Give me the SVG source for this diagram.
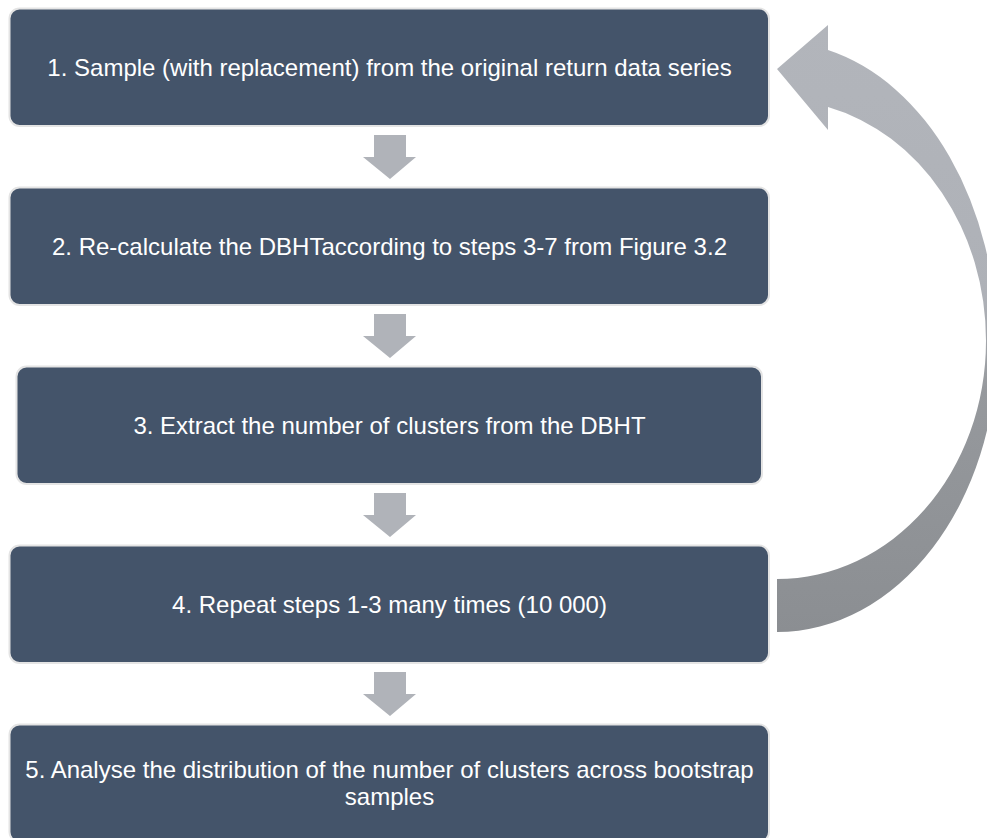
<svg xmlns="http://www.w3.org/2000/svg" width="987" height="838" viewBox="0 0 987 838">
  <style>
    .box { fill: #44546a; stroke: #e4e4e4; stroke-width: 2; }
    .lbl { fill: #ffffff; font-family: "Liberation Sans", Arial, sans-serif; font-size: 24px; text-anchor: middle; }
    .down { fill: #b0b3b9; }
  </style>
  <defs>
    <linearGradient id="loopGrad" gradientUnits="userSpaceOnUse" x1="0" y1="25" x2="0" y2="632">
      <stop offset="0" stop-color="#b2b5bb"/>
      <stop offset="0.45" stop-color="#aeb1b7"/>
      <stop offset="0.6" stop-color="#96999d"/>
      <stop offset="1" stop-color="#8b8e92"/>
    </linearGradient>
  </defs>
  <rect width="987" height="838" fill="#ffffff"/>

  <g id="connectors">
    <polygon class="down" points="374,135 406,135 406,157 416,157 390,179 363,157 374,157"/>
    <polygon class="down" points="374,314 406,314 406,336 416,336 390,358 363,336 374,336"/>
    <polygon class="down" points="374,493 406,493 406,515 416,515 390,537 363,515 374,515"/>
    <polygon class="down" points="374,672 406,672 406,694 416,694 390,716 363,694 374,694"/>
    <path id="loop-arrow" fill="url(#loopGrad)" d="M777,632 A220,287 0 0 0 997,345 A220,303 0 0 0 828,50 L828,25 L777,69 L828,130 L828,107 A209,241 0 0 1 986,341 A209,238 0 0 1 777,579 Z"/>
  </g>

  <g id="step1">
    <rect class="box" x="9.5" y="8.5" width="759.5" height="117.5" rx="10"/>
    <text class="lbl" x="389.5" y="76">1. Sample (with replacement) from the original return data series</text>
  </g>
  <g id="step2">
    <rect class="box" x="9.5" y="187.5" width="759.5" height="117.5" rx="10"/>
    <text class="lbl" x="389.5" y="255">2. Re-calculate the DBHTaccording to steps 3-7 from Figure 3.2</text>
  </g>
  <g id="step3">
    <rect class="box" x="16.5" y="366.5" width="745.5" height="117.5" rx="10"/>
    <text class="lbl" x="389.5" y="434">3. Extract the number of clusters from the DBHT</text>
  </g>
  <g id="step4">
    <rect class="box" x="9.5" y="545.5" width="759.5" height="117.5" rx="10"/>
    <text class="lbl" x="389.5" y="613">4. Repeat steps 1-3 many times (10 000)</text>
  </g>
  <g id="step5">
    <rect class="box" x="9.5" y="724.5" width="759.5" height="117.5" rx="10"/>
    <text class="lbl" x="389.5" y="778">5. Analyse the distribution of the number of clusters across bootstrap</text>
    <text class="lbl" x="389.5" y="805">samples</text>
  </g>
</svg>
